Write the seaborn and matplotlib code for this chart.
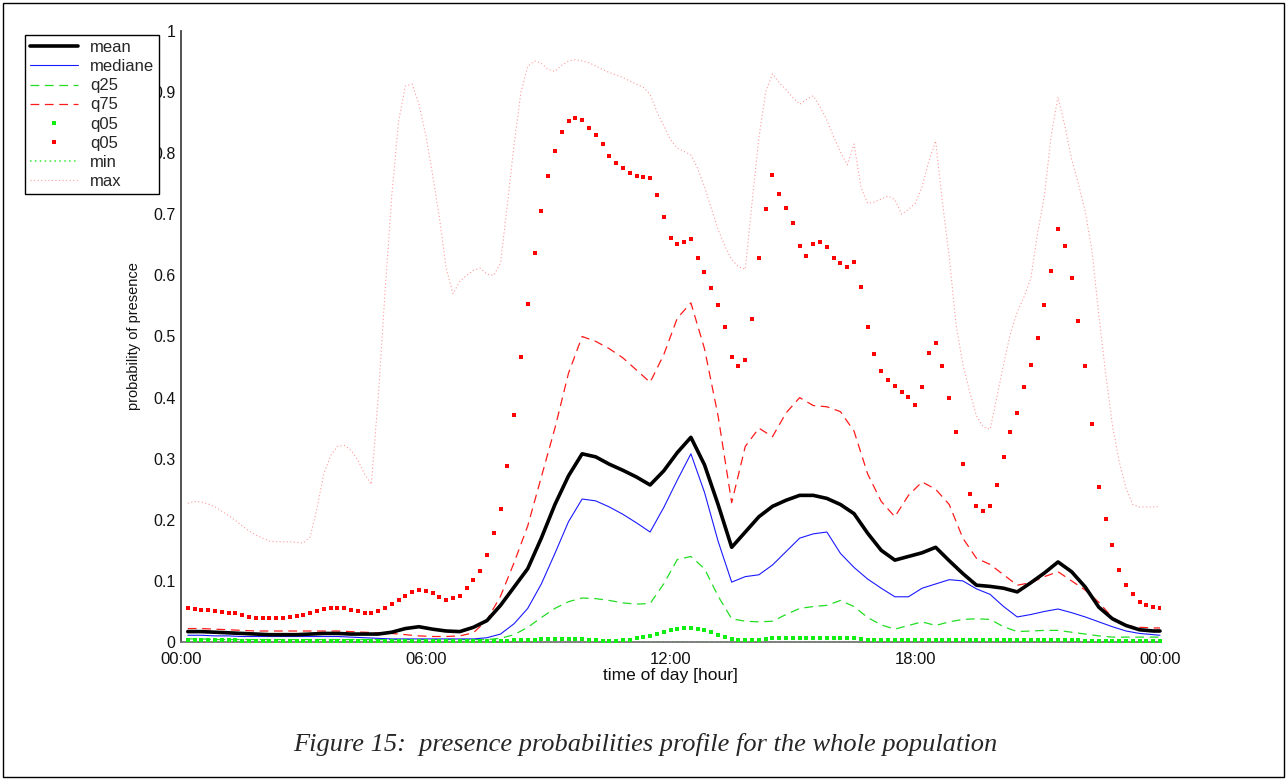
import matplotlib
matplotlib.use("Agg")
import matplotlib.pyplot as plt
from matplotlib.lines import Line2D
from matplotlib.patches import Rectangle
import pandas as pd
import seaborn as sns

# Sampling instants, minutes after midnight
minutes_fine = list(range(10, 1441, 10))              # 10-minute profile
minutes_coarse = list(range(10, 1431, 20)) + [1440]  # 20-minute profile

# Smooth statistics on the 20-minute profile
mean_vals = [
    0.017, 0.017, 0.016, 0.015, 0.014, 0.013,
    0.012, 0.012, 0.012, 0.013, 0.014, 0.014,
    0.013, 0.013, 0.013, 0.016, 0.022, 0.025,
    0.021, 0.018, 0.017, 0.024, 0.035, 0.060,
    0.090, 0.120, 0.170, 0.225, 0.272, 0.308,
    0.303, 0.291, 0.281, 0.270, 0.257, 0.280,
    0.310, 0.335, 0.290, 0.225, 0.155, 0.180,
    0.205, 0.222, 0.232, 0.240, 0.240, 0.235,
    0.225, 0.210, 0.178, 0.150, 0.134, 0.140,
    0.146, 0.155, 0.133, 0.112, 0.093, 0.091,
    0.088, 0.082, 0.097, 0.113, 0.131, 0.115,
    0.090, 0.057, 0.038, 0.027, 0.020, 0.018,
    0.018]
median_vals = [
    0.011, 0.011, 0.010, 0.010, 0.009, 0.009,
    0.009, 0.009, 0.009, 0.009, 0.009, 0.009,
    0.008, 0.007, 0.006, 0.005, 0.005, 0.005,
    0.005, 0.005, 0.005, 0.005, 0.007, 0.013,
    0.030, 0.055, 0.095, 0.145, 0.197, 0.234,
    0.231, 0.221, 0.209, 0.195, 0.180, 0.220,
    0.265, 0.308, 0.245, 0.165, 0.098, 0.107,
    0.110, 0.126, 0.148, 0.170, 0.177, 0.180,
    0.145, 0.122, 0.103, 0.088, 0.074, 0.074,
    0.088, 0.095, 0.102, 0.100, 0.087, 0.078,
    0.058, 0.041, 0.045, 0.050, 0.054, 0.048,
    0.041, 0.033, 0.025, 0.018, 0.014, 0.012,
    0.011]
q25_vals = [
    0.005, 0.005, 0.004, 0.004, 0.004, 0.004,
    0.004, 0.004, 0.004, 0.004, 0.004, 0.004,
    0.004, 0.004, 0.004, 0.004, 0.004, 0.004,
    0.004, 0.004, 0.004, 0.004, 0.004, 0.006,
    0.012, 0.024, 0.040, 0.055, 0.066, 0.072,
    0.071, 0.068, 0.064, 0.062, 0.063, 0.095,
    0.135, 0.140, 0.120, 0.075, 0.038, 0.034,
    0.033, 0.034, 0.045, 0.055, 0.058, 0.060,
    0.068, 0.058, 0.040, 0.028, 0.021, 0.027,
    0.033, 0.027, 0.033, 0.037, 0.038, 0.037,
    0.025, 0.017, 0.018, 0.019, 0.019, 0.016,
    0.013, 0.010, 0.008, 0.008, 0.008, 0.008,
    0.008]
q75_vals = [
    0.022, 0.022, 0.021, 0.020, 0.019, 0.018,
    0.018, 0.018, 0.018, 0.018, 0.018, 0.018,
    0.017, 0.016, 0.015, 0.014, 0.012, 0.010,
    0.009, 0.009, 0.010, 0.015, 0.036, 0.075,
    0.130, 0.190, 0.270, 0.350, 0.440, 0.500,
    0.492, 0.480, 0.465, 0.445, 0.425, 0.470,
    0.530, 0.555, 0.480, 0.370, 0.228, 0.320,
    0.350, 0.336, 0.375, 0.400, 0.387, 0.385,
    0.377, 0.345, 0.275, 0.230, 0.205, 0.240,
    0.262, 0.250, 0.225, 0.170, 0.137, 0.127,
    0.110, 0.093, 0.097, 0.107, 0.115, 0.100,
    0.085, 0.065, 0.040, 0.027, 0.024, 0.023,
    0.023]
min_vals = [
    0.0, 0.0, 0.0, 0.0, 0.0, 0.0, 0.0, 0.0, 0.0, 0.0, 0.0, 0.0,
    0.0, 0.0, 0.0, 0.0, 0.0, 0.0, 0.0, 0.0, 0.0, 0.0, 0.0, 0.0,
    0.0, 0.0, 0.0, 0.0, 0.0, 0.0, 0.0, 0.0, 0.0, 0.0, 0.0, 0.0,
    0.0, 0.0, 0.0, 0.0, 0.0, 0.0, 0.0, 0.0, 0.0, 0.0, 0.0, 0.0,
    0.0, 0.0, 0.0, 0.0, 0.0, 0.0, 0.0, 0.0, 0.0, 0.0, 0.0, 0.0,
    0.0, 0.0, 0.0, 0.0, 0.0, 0.0, 0.0, 0.0, 0.0, 0.0, 0.0, 0.0,
    0.0]

# Statistics on the 10-minute profile
max_vals = [
    0.227, 0.230, 0.229, 0.226, 0.221, 0.214,
    0.207, 0.199, 0.190, 0.182, 0.175, 0.170,
    0.165, 0.164, 0.164, 0.164, 0.163, 0.162,
    0.172, 0.219, 0.275, 0.305, 0.320, 0.322,
    0.314, 0.298, 0.275, 0.258, 0.400, 0.571,
    0.730, 0.852, 0.910, 0.913, 0.880, 0.830,
    0.765, 0.695, 0.612, 0.570, 0.590, 0.600,
    0.608, 0.612, 0.602, 0.600, 0.620, 0.715,
    0.815, 0.900, 0.942, 0.951, 0.947, 0.937,
    0.934, 0.944, 0.951, 0.953, 0.951, 0.948,
    0.943, 0.937, 0.932, 0.928, 0.924, 0.918,
    0.913, 0.908, 0.896, 0.868, 0.845, 0.822,
    0.808, 0.803, 0.797, 0.775, 0.745, 0.710,
    0.675, 0.648, 0.626, 0.614, 0.610, 0.720,
    0.825, 0.900, 0.930, 0.915, 0.904, 0.891,
    0.880, 0.888, 0.894, 0.876, 0.854, 0.827,
    0.802, 0.781, 0.815, 0.745, 0.718, 0.720,
    0.725, 0.730, 0.724, 0.700, 0.708, 0.718,
    0.745, 0.787, 0.820, 0.720, 0.630, 0.520,
    0.455, 0.410, 0.370, 0.352, 0.348, 0.400,
    0.455, 0.505, 0.540, 0.565, 0.595, 0.670,
    0.730, 0.830, 0.892, 0.845, 0.790, 0.750,
    0.705, 0.640, 0.535, 0.440, 0.355, 0.295,
    0.252, 0.225, 0.221, 0.221, 0.221, 0.222]
q05_vals = [
    0.003, 0.003, 0.003, 0.003, 0.003, 0.003,
    0.003, 0.003, 0.002, 0.002, 0.002, 0.002,
    0.002, 0.002, 0.002, 0.002, 0.002, 0.002,
    0.002, 0.002, 0.002, 0.002, 0.002, 0.002,
    0.002, 0.002, 0.002, 0.002, 0.002, 0.002,
    0.002, 0.002, 0.002, 0.002, 0.002, 0.002,
    0.002, 0.002, 0.002, 0.002, 0.002, 0.002,
    0.002, 0.002, 0.002, 0.002, 0.002, 0.002,
    0.003, 0.003, 0.004, 0.004, 0.005, 0.005,
    0.005, 0.005, 0.005, 0.005, 0.005, 0.004,
    0.003, 0.002, 0.002, 0.002, 0.003, 0.004,
    0.006, 0.008, 0.010, 0.013, 0.016, 0.019,
    0.021, 0.023, 0.023, 0.022, 0.020, 0.016,
    0.012, 0.008, 0.005, 0.004, 0.004, 0.004,
    0.004, 0.005, 0.006, 0.006, 0.007, 0.007,
    0.007, 0.007, 0.007, 0.007, 0.007, 0.007,
    0.006, 0.006, 0.006, 0.005, 0.004, 0.003,
    0.003, 0.003, 0.003, 0.003, 0.003, 0.004,
    0.004, 0.004, 0.004, 0.004, 0.004, 0.004,
    0.004, 0.004, 0.004, 0.003, 0.003, 0.003,
    0.003, 0.003, 0.003, 0.003, 0.003, 0.003,
    0.003, 0.003, 0.003, 0.003, 0.003, 0.003,
    0.002, 0.002, 0.002, 0.002, 0.002, 0.002,
    0.002, 0.002, 0.002, 0.002, 0.002, 0.002]
q95_vals = [
    0.055, 0.054, 0.052, 0.052, 0.051, 0.049,
    0.048, 0.047, 0.044, 0.041, 0.040, 0.039,
    0.039, 0.039, 0.040, 0.041, 0.043, 0.045,
    0.048, 0.051, 0.054, 0.055, 0.056, 0.055,
    0.052, 0.050, 0.047, 0.048, 0.050, 0.055,
    0.062, 0.068, 0.076, 0.082, 0.085, 0.083,
    0.081, 0.074, 0.068, 0.072, 0.076, 0.088,
    0.101, 0.117, 0.143, 0.179, 0.217, 0.288,
    0.372, 0.466, 0.554, 0.636, 0.706, 0.763,
    0.804, 0.834, 0.852, 0.858, 0.854, 0.842,
    0.829, 0.815, 0.795, 0.784, 0.775, 0.767,
    0.763, 0.761, 0.759, 0.732, 0.696, 0.662,
    0.651, 0.654, 0.660, 0.628, 0.606, 0.580,
    0.551, 0.516, 0.466, 0.451, 0.462, 0.529,
    0.629, 0.709, 0.765, 0.734, 0.710, 0.685,
    0.648, 0.632, 0.651, 0.655, 0.647, 0.628,
    0.620, 0.613, 0.622, 0.581, 0.515, 0.472,
    0.444, 0.428, 0.419, 0.409, 0.401, 0.388,
    0.418, 0.473, 0.490, 0.452, 0.399, 0.344,
    0.291, 0.243, 0.223, 0.214, 0.223, 0.257,
    0.302, 0.344, 0.374, 0.418, 0.453, 0.498,
    0.551, 0.608, 0.676, 0.648, 0.595, 0.526,
    0.452, 0.357, 0.253, 0.202, 0.158, 0.118,
    0.093, 0.078, 0.066, 0.061, 0.058, 0.056]

x_tick_hours = [0, 6, 12, 18, 24]
x_tick_labels = ["00:00", "06:00", "12:00", "18:00", "00:00"]
y_tick_values = [0, 0.1, 0.2, 0.3, 0.4, 0.5, 0.6, 0.7, 0.8, 0.9, 1]
y_tick_labels = ["0", "0.1", "0.2", "0.3", "0.4", "0.5", "0.6", "0.7", "0.8", "0.9", "1"]
legend_labels = ["mean", "mediane", "q25", "q75", "q05", "q05", "min", "max"]

coarse = pd.DataFrame({
    "hour": [m / 60 for m in minutes_coarse],
    "mean": mean_vals, "median": median_vals,
    "q25": q25_vals, "q75": q75_vals, "min": min_vals,
})
fine = pd.DataFrame({
    "hour": [m / 60 for m in minutes_fine],
    "max": max_vals, "q05": q05_vals, "q95": q95_vals,
})

sns.set_theme(style="white")
plt.rcParams["font.family"] = ["Liberation Sans", "DejaVu Sans"]

W, H = 1287, 780
fig = plt.figure(figsize=(W / 100, H / 100), dpi=100)
fig.patch.set_facecolor("white")
ax = fig.add_axes([181 / W, 1 - 642 / H, (1160 - 181) / W, (642 - 31) / H])
ax.set_facecolor("white")

dash = (0, (7, 4.5))
dot_fine = (0, (1, 2.2))

styles = {
    "mean": dict(color="black", linewidth=2.6),
    "median": dict(color="#1a1aff", linewidth=0.8),
    "q25": dict(color="#22dd22", linewidth=0.9, linestyle=dash),
    "q75": dict(color="#ff1a1a", linewidth=0.9, linestyle=dash),
    "min": dict(color="#33ee33", linewidth=1.1, linestyle=dot_fine),
}
for col in ["min", "q25", "q75", "median", "mean"]:
    sns.lineplot(data=coarse, x="hour", y=col, ax=ax, errorbar=None,
                 legend=False, clip_on=False, **styles[col])

max_style = dict(color="#ff5555", linewidth=0.8, linestyle=dot_fine, alpha=0.6)
sns.lineplot(data=fine, x="hour", y="max", ax=ax, errorbar=None,
             legend=False, **max_style)

sns.scatterplot(data=fine, x="hour", y="q05", ax=ax, color="#11ee11",
                marker="s", s=7, linewidth=0, legend=False, clip_on=False, zorder=3)
sns.scatterplot(data=fine, x="hour", y="q95", ax=ax, color="#ff0000",
                marker="s", s=9, linewidth=0, legend=False, zorder=3)

ax.set_xlim(0, 24)
ax.set_ylim(0, 1)
ax.set_xticks(x_tick_hours, x_tick_labels)
ax.set_yticks(y_tick_values, y_tick_labels)
ax.tick_params(axis="both", direction="in", length=6, width=1.0,
               color="#333333", labelcolor="#111111")
ax.tick_params(axis="x", pad=7, labelsize=12)
ax.tick_params(axis="y", pad=4, labelsize=11.5)
for side in ["top", "right"]:
    ax.spines[side].set_visible(False)
ax.spines["left"].set_color("#444444")
ax.spines["left"].set_linewidth(1.3)
ax.spines["bottom"].set_color("#777777")
ax.spines["bottom"].set_linewidth(1.3)

ax.set_xlabel("time of day [hour]", fontsize=12.5, labelpad=1, color="#111111")
ax.set_ylabel("probability of presence", fontsize=10.5, labelpad=9, color="#111111")

handles = [
    Line2D([], [], **styles["mean"]),
    Line2D([], [], **styles["median"]),
    Line2D([], [], **styles["q25"]),
    Line2D([], [], **styles["q75"]),
    Line2D([], [], linestyle="none", marker="s", markersize=2.8,
           markeredgewidth=0, color="#11ee11"),
    Line2D([], [], linestyle="none", marker="s", markersize=3.0,
           markeredgewidth=0, color="#ff0000"),
    Line2D([], [], **styles["min"]),
    Line2D([], [], **max_style),
]
leg = fig.legend(handles, legend_labels, loc="upper left",
                 bbox_to_anchor=(25 / W, 1 - 35 / H), bbox_transform=fig.transFigure,
                 frameon=True, fancybox=False, edgecolor="black", framealpha=1,
                 fontsize=12, handlelength=2.9, handletextpad=0.7,
                 labelspacing=0.25, borderpad=0.3, borderaxespad=0, numpoints=1)
leg.get_frame().set_linewidth(1.0)

fig.text(0.501, 1 - 744 / H,
         "Figure 15:  presence probabilities profile for the whole population",
         ha="center", va="center", fontsize=19, style="italic",
         family=["Liberation Serif", "DejaVu Serif"])

fig.patches.append(Rectangle((3 / W, 3 / H), 1 - 6 / W, 1 - 6 / H,
                             transform=fig.transFigure, fill=False,
                             edgecolor="black", linewidth=1.0))

fig.savefig("out.png", dpi=100)
